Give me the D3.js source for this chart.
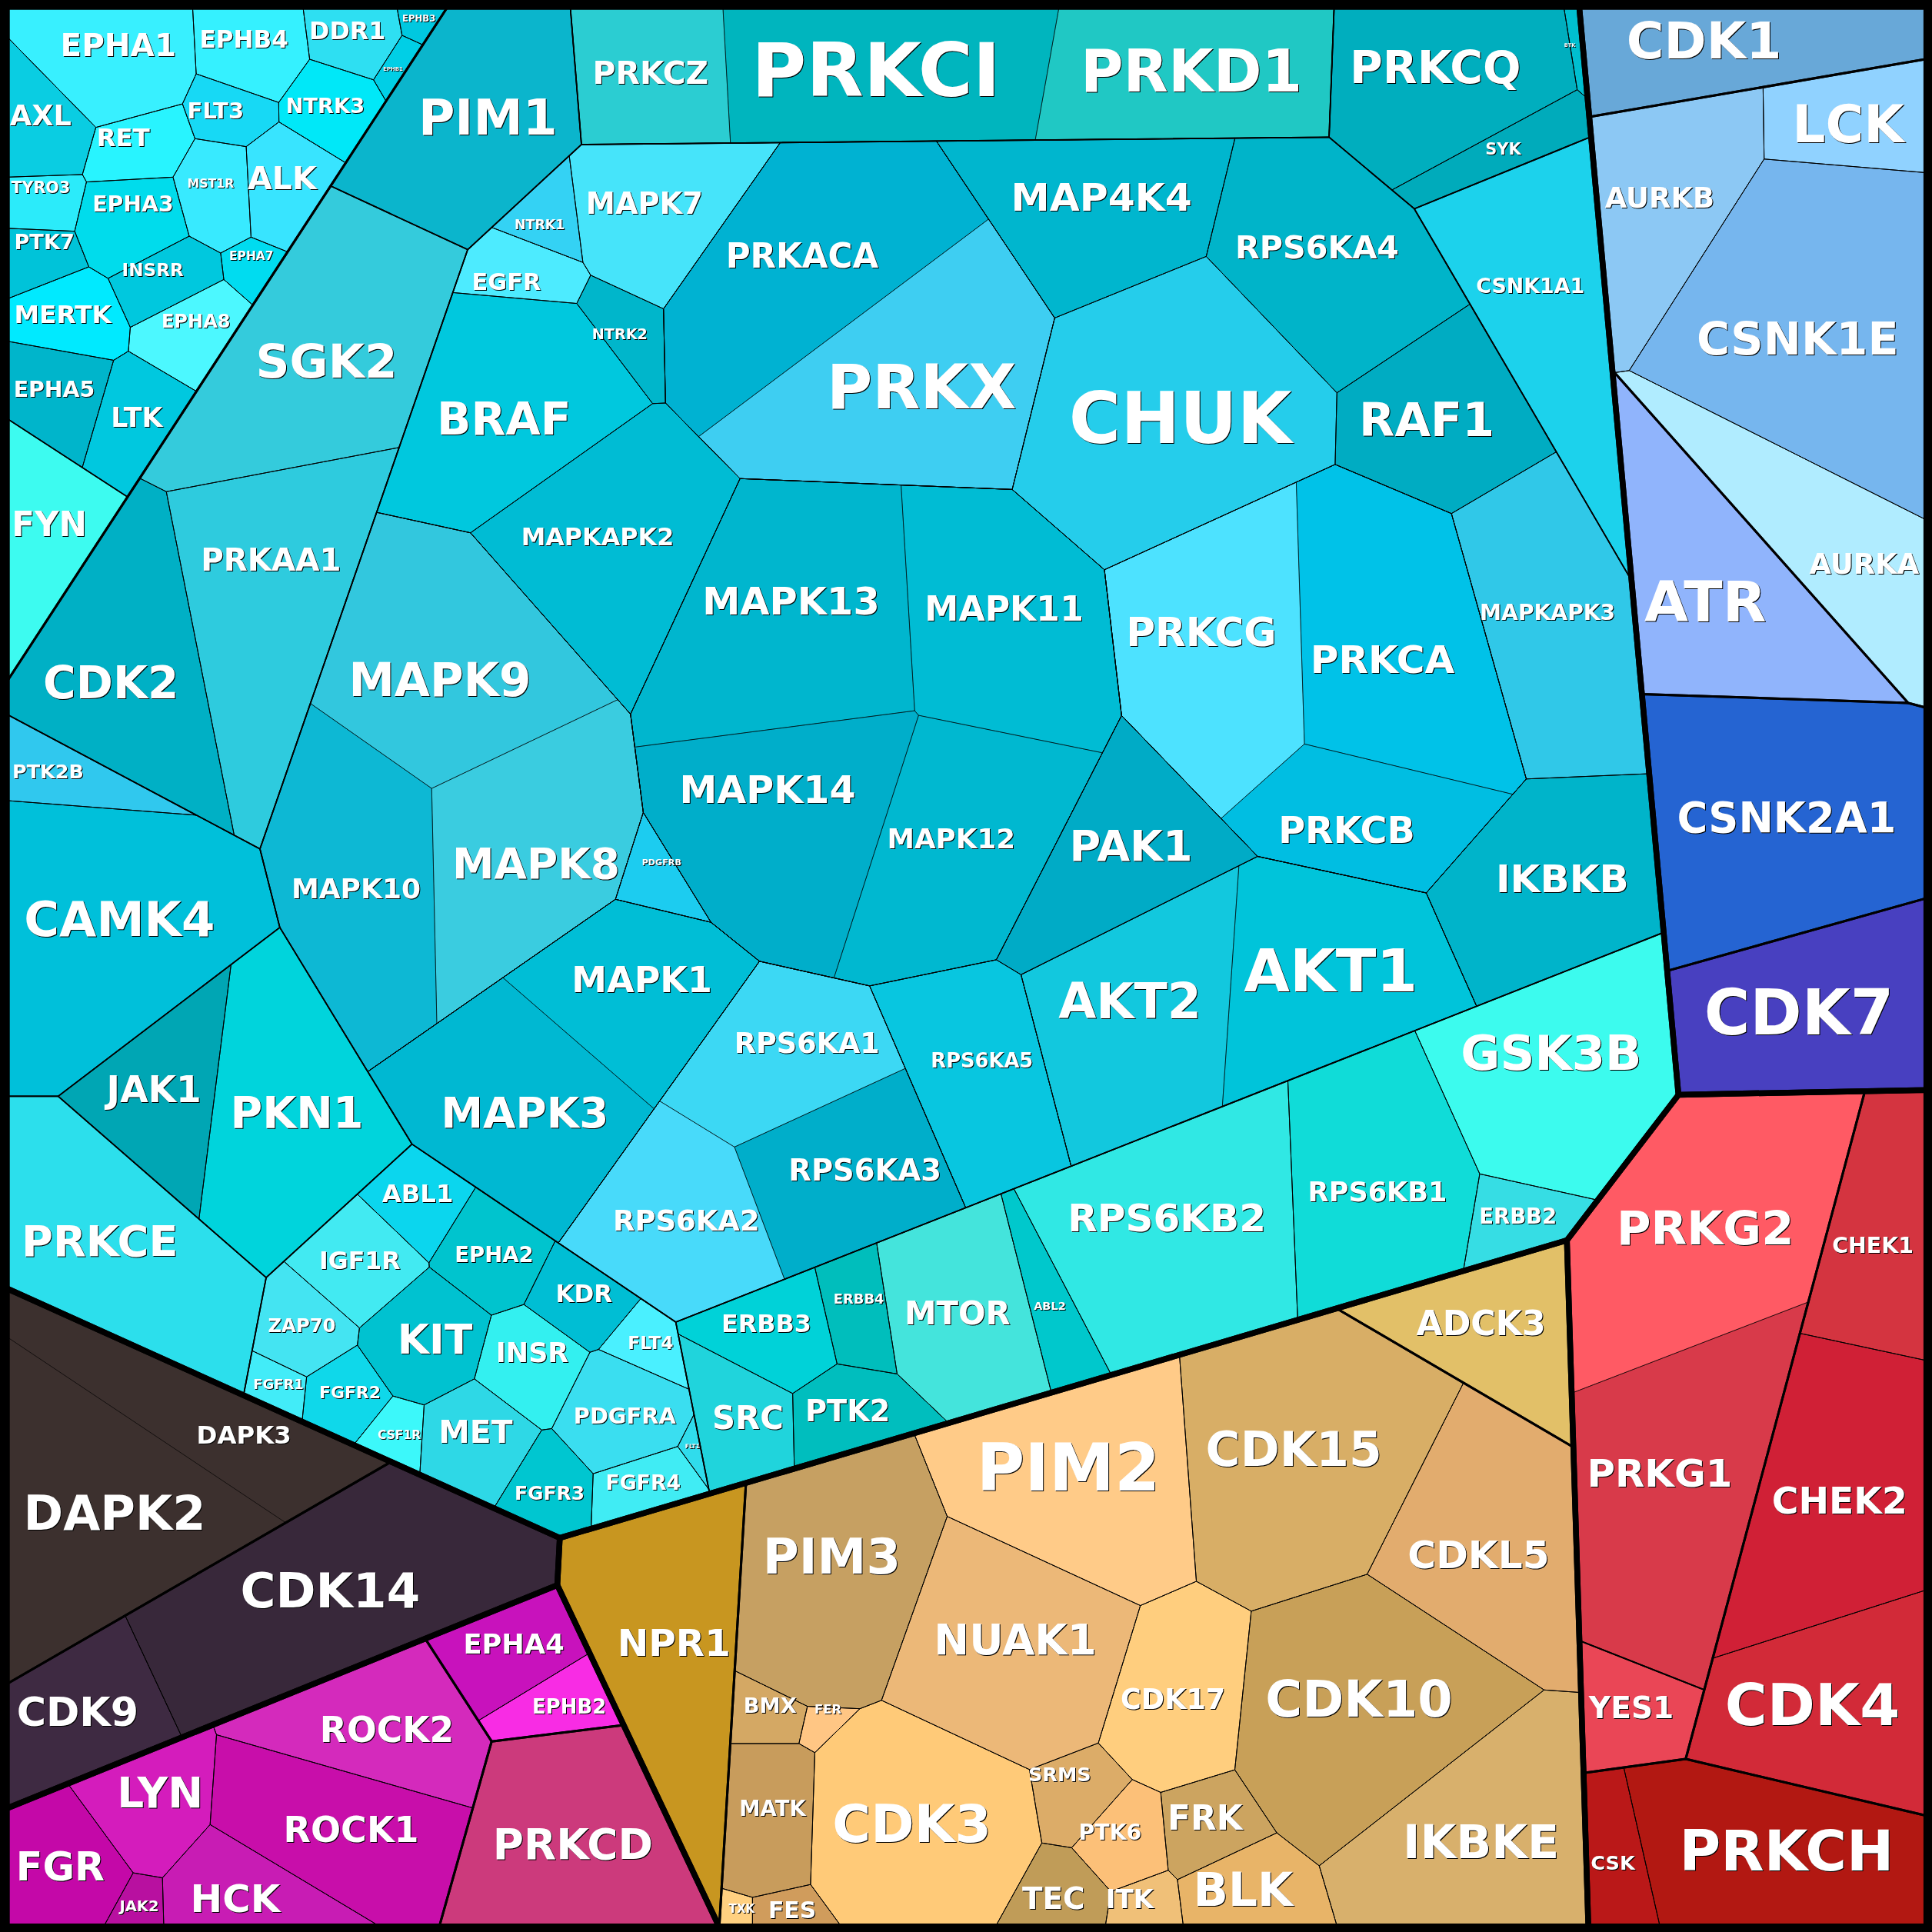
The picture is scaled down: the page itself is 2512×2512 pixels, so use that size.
<!DOCTYPE html>
<html>
<head>
<meta charset="utf-8">
<script src="https://cdn.jsdelivr.net/npm/d3@7"></script>
<style>
  html, body { margin: 0; padding: 0; background: #000; }
  text { font-family: "DejaVu Sans", sans-serif; font-weight: bold; fill: #fff; filter: drop-shadow(1.5px 1.5px 0 #000); }
</style>
</head>
<body>
<div id="chart"></div>
<script>
// kinases, all the lists below run in this order
const kinases = [
  "EPHA1","EPHB4","DDR1","EPHB3","EPHB1","NTRK3","FLT3","ALK","RET","AXL","TYRO3","EPHA3","MST1R","PTK7","INSRR","EPHA7","EPHA8","MERTK","EPHA5","LTK","FYN",
  "PIM1","PRKCZ","PRKCI","PRKD1","PRKCQ","BTK","SYK","CSNK1A1",
  "SGK2","PRKAA1","CDK2","PTK2B","CAMK4","JAK1","PKN1","PRKCE",
  "BRAF","EGFR","NTRK1","MAPK7","NTRK2","PRKACA","PRKX","MAP4K4","RPS6KA4","CHUK","RAF1","MAPKAPK3","PRKCG","PRKCA","PRKCB","IKBKB","AKT1","AKT2","PAK1","MAPK12","MAPK11","MAPK13","MAPK14","PDGFRB","MAPKAPK2","MAPK9","MAPK8","MAPK10","MAPK1","MAPK3","RPS6KA1","RPS6KA2","RPS6KA3","RPS6KA5",
  "ABL1","IGF1R","EPHA2","KDR","KIT","ZAP70","FGFR1","FGFR2","CSF1R","MET","INSR","FLT4","PDGFRA","FLT1","FGFR3","FGFR4",
  "ERBB3","SRC","ERBB4","PTK2","MTOR","ABL2","RPS6KB2","RPS6KB1","GSK3B","ERBB2",
  "CDK1","LCK","AURKB","CSNK1E","AURKA","ATR","CSNK2A1","CDK7",
  "PRKG2","PRKG1","YES1","CHEK1","CHEK2","CDK4","CSK","PRKCH",
  "NPR1","ADCK3","CDK15","CDKL5","PIM2","PIM3","NUAK1","CDK17","CDK10","IKBKE","BMX","FER","MATK","CDK3","TXK","FES","SRMS","PTK6","FRK","TEC","ITK","BLK",
  "DAPK3","DAPK2","CDK14","CDK9",
  "EPHA4","EPHB2","ROCK2","ROCK1","LYN","FGR","JAK2","HCK","PRKCD"
];

// cell sizes
const cellValues = [
  11100,5800,3600,800,870,4400,3050,5200,4000,5200,2600,5400,4400,2650,3700,1700,4800,5300,5800,5800,10300,
  25500,13400,28000,24300,21800,700,5000,26400,
  34300,30900,26700,5300,36900,12900,27500,29000,
  25900,4400,3000,14400,3900,33600,35700,22500,26700,42700,18000,27500,30200,33900,16700,24500,26500,26800,18600,27600,29800,36400,31200,2900,27100,31700,27900,28300,18500,26000,17200,18500,18200,19300,
  4600,6400,6000,4400,7600,4800,1750,3600,2150,6500,5700,2700,7300,550,4400,3700,
  7300,7400,4600,6500,17400,5100,34600,26500,29200,4900,
  18100,9800,19300,45200,21400,27900,41800,26100,
  38200,36600,7500,15900,30000,24000,5700,26400,
  29100,15600,38600,26800,29100,28000,26500,15000,34200,27500,2600,1000,8300,26800,700,1750,4270,4350,5100,4200,2150,6900,
  17900,31400,39200,13000,
  7600,4300,15800,19500,8600,8800,1500,7900,25900
];

const cellColors = [
  "#38f0ff","#35f1ff","#2edff2","#00c8e0","#00cfe6","#00e8f8","#17d9f5","#38e4ff","#28f4ff","#0acde2","#2bebfa","#00dcec","#38eaff","#00c3d9","#00c8de","#00dcf0","#4cf8ff","#00eaff","#00b5cb","#00c8df","#3dfbf0",
  "#0bb5cc","#2bcdd2","#00b5be","#20c8c4","#00aebe","#00bfd0","#00abbb","#1cd2ec",
  "#34cbdc","#2ecbde","#00b0c5","#30c8ee","#00c0da","#00a6b4","#00d4dc","#2cdfec",
  "#00c8de","#4debff","#34d2f4","#46e4fa","#00b6cb","#00b2d2","#3ecef2","#00b6ce","#00b4c9","#25cdeb","#00acc2","#30c8e8","#4de2ff","#00c2e8","#00bee2","#00b4ca","#00c4da","#12c8de","#00abc6","#00b8d0","#00bcd4","#00b6ce","#00aeca","#1cccf0","#00bcd4","#32c7de","#3acce0","#0db8d4","#00bed6","#00b8d2","#3cd8f4","#48dafa","#00aeca","#08c6e0",
  "#0bd6ee","#42eaf2","#00c4ce","#00bed4","#00c2d0","#44e4f2","#42ecf8","#0fd8ea","#3cf8fa","#2ed8e6","#33f0f0","#4af0ff","#3adef0","#30dcec","#00c6d0","#40ecf4",
  "#00d2d8","#20d4dc","#00bebc","#00bebe","#44e4dc","#00c8cc","#30e8e4","#10dcd8","#3cfbee","#36dde4",
  "#68a8d8","#90d2ff","#8cc8f4","#76b6ee","#b0ecff","#90b4fc","#2564d2","#4840c0",
  "#ff5a64","#d83a4a","#ea4656","#d43440","#d02036","#d22a38","#ba1818","#b21812",
  "#c89620","#e2c068","#d8ae66","#e2ac6e","#ffcb88","#c6a062","#ecb878","#ffce7e","#c8a058","#d8b06c","#d4a864","#ffc684","#c89c5c","#ffca78","#ffd080","#d09c5c","#dcac68","#fcc078","#cca460","#c09c58","#f0c078","#e8b468",
  "#3c302e","#3c302e","#38283a","#3e2a42",
  "#c812bc","#f82ce4","#d42abc","#c80eaa","#d41cbc","#c408a8","#b810a0","#c81cb4","#cc3a7c"
];

// where the labels sit and how wide they are, in the 1568 reading grid
const labelX = [
  96,198,282,340,319,264,175,229,100,33,33,108,171,36,124,204,159,51,44,111,40,
  396,528,711,967,1165,1274,1220,1242,
  265,220,90,39,97,125,241,81,
  409,411,438,523,503,651,748,894,1069,958,1158,1256,975,1122,1093,1268,1080,917,918,772,815,642,623,537,485,357,435,289,521,426,655,557,702,797,
  339,292,401,474,353,245,226,284,324,386,432,528,507,562,446,522,
  622,607,697,688,777,852,947,1118,1259,1232,
  1383,1500,1347,1459,1513,1384,1450,1460,
  1384,1347,1324,1520,1493,1471,1309,1450,
  547,1202,1050,1200,867,675,824,952,1103,1202,625,672,627,740,602,643,860,901,978,855,917,1009,
  198,93,268,63,
  417,462,314,285,130,49,113,191,465
];
const labelY = [
  37,32,25,15,56,86,90,145,112,94,152,166,149,196,219,208,261,255,316,339,426,
  95,59,57,58,55,37,121,232,
  293,455,554,626,746,884,903,1007,
  340,229,182,165,271,208,314,160,201,340,341,497,513,535,674,713,788,813,686,681,494,488,641,700,436,552,701,721,795,903,847,991,950,861,
  969,1023,1018,1050,1087,1076,1123,1130,1165,1162,1098,1090,1149,1174,1212,1203,
  1074,1151,1054,1145,1066,1060,989,967,855,987,
  33,101,161,275,458,488,664,822,
  997,1196,1386,1011,1218,1384,1512,1502,
  1333,1074,1176,1262,1191,1263,1331,1379,1379,1495,1384,1387,1468,1480,1549,1550,1440,1487,1475,1541,1541,1534,
  1165,1228,1291,1389,
  1334,1385,1404,1485,1455,1515,1547,1541,1497
];
const labelW = [
  94,72,62,27,16,64,46,56,43,50,48,66,38,49,50,36,56,79,66,42,61,
  113,94,202,180,139,9,29,88,
  115,114,110,58,155,77,108,127,
  109,56,41,95,45,124,154,147,133,181,110,110,122,117,111,108,141,116,100,104,129,144,143,32,124,148,136,105,114,136,118,119,124,83,
  58,66,64,46,61,55,41,50,35,60,59,37,83,12,57,61,
  73,58,41,69,86,26,161,113,147,63,
  126,91,89,164,89,99,178,154,
  144,118,69,66,110,142,36,174,
  92,105,143,115,149,112,132,85,152,127,43,22,54,129,21,39,51,51,61,51,39,81,
  77,148,146,99,
  82,60,109,110,70,72,32,73,130
];

// nesting of the cells, an extra bracket just pushes the border one level thinner
const nesting = [
  [ // cyan
    [["EPHA1","EPHB4","DDR1","EPHB3","EPHB1","NTRK3","FLT3","ALK","RET","AXL","TYRO3","EPHA3","MST1R","PTK7","INSRR","EPHA7","EPHA8","MERTK","EPHA5","LTK"],"FYN"],
    [
      "PIM1",
      [[["PRKCZ","PRKCI","PRKD1"]]],
      ["PRKCQ","BTK","SYK"],
      "CSNK1A1",
      ["SGK2","PRKAA1","CDK2"],
      ["PTK2B","CAMK4"],
      ["JAK1","PKN1"],
      "PRKCE",
      ["ABL1","IGF1R","EPHA2","KDR","KIT","ZAP70","FGFR1","FGFR2","CSF1R","MET","INSR","FLT4","PDGFRA","FLT1","FGFR3","FGFR4"],
      ["ERBB3","SRC","ERBB4","PTK2","MTOR","ABL2","RPS6KB2","RPS6KB1","GSK3B","ERBB2"],
      ["BRAF","EGFR","NTRK1","MAPK7","NTRK2","MAP4K4","RPS6KA4","CHUK","RAF1","MAPKAPK3","IKBKB","PAK1","PDGFRB","MAPKAPK2","RPS6KA5",
        [["PRKX","PRKACA"]],
        [["PRKCG","PRKCA","PRKCB"]],
        [["MAPK13","MAPK11","MAPK14","MAPK12"]],
        [["MAPK9","MAPK8","MAPK10"]],
        [["AKT1","AKT2"]],
        [["RPS6KA1","RPS6KA2","RPS6KA3"]],
        [["MAPK1","MAPK3"]]
      ]
    ]
  ],
  ["CDK1",[["LCK","AURKB","CSNK1E","AURKA"]],"ATR","CSNK2A1","CDK7"], // blue
  [[[[["PRKG2","PRKG1"]]],"YES1"],[["CHEK1","CHEK2","CDK4"]],[["CSK","PRKCH"]]], // red
  ["NPR1","ADCK3",[["CDK15","CDKL5","PIM2","PIM3","NUAK1","CDK17","CDK10","IKBKE","BMX","FER","MATK","CDK3","TXK","FES","SRMS","PTK6","FRK","TEC","ITK","BLK"]]], // tan
  [[[[[["DAPK3","DAPK2"]]]]],[["CDK14","CDK9"]]], // dark
  [[["FGR","JAK2","LYN","HCK","ROCK1","ROCK2"]],[["EPHA4","EPHB2"]],"PRKCD"] // magenta
];

// generator points of the cells, key is first leaf @ depth
const cellSites = {
  "EPHA1@1":[640,580], "CDK1@1":[1583,494], "PRKG2@1":[1599,1315], "NPR1@1":[864,1338], "DAPK3@1":[311,1309], "FGR@1":[410,1553],
  "EPHA1@2":[150,200], "PIM1@2":[568,473], "EPHA1@3":[170,170], "FYN@3":[1,430],
  "BRAF@3":[760,570], "PRKCZ@3":[756,163], "PRKCQ@3":[1091,176], "CSNK1A1@3":[1157,338], "ERBB3@3":[917,968], "ABL1@3":[426,1065], "JAK1@3":[255,878], "PTK2B@3":[140,727], "SGK2@3":[307,413], "PIM1@3":[410,191], "PRKCE@3":[140,1010],
  "CDK1@2":[1420,50], "LCK@2":[1459,277], "ATR@2":[1369,357], "CSNK2A1@2":[1359,657], "CDK7@2":[1405,821],
  "LCK@4":[1494,163], "AURKB@4":[1360,165], "CSNK1E@4":[1487,246], "AURKA@4":[1397,425],
  "PRKG2@2":[1350,1160], "CHEK1@2":[1514,1204], "CSK@2":[1414,1628],
  "PRKG2@3":[1360,1110], "YES1@3":[1261,1361], "PRKG2@6":[1340,1000], "PRKG1@6":[1412,1187],
  "CHEK1@4":[1520,995], "CHEK2@4":[1478,1190], "CDK4@4":[1533,1362], "CSK@4":[1300,1510], "PRKCH@4":[1436,1479],
  "NPR1@2":[531,1316], "ADCK3@2":[1100,1050], "CDK15@2":[930,1340],
  "DAPK3@2":[130,1190], "CDK14@2":[215,1337], "DAPK3@7":[190,1165], "DAPK2@7":[118,1273], "CDK14@4":[285,1290], "CDK9@4":[86,1383],
  "FGR@2":[200,1470], "EPHA4@2":[418,1329], "PRKCD@2":[444,1539], "EPHA4@4":[420,1335], "EPHB2@4":[451,1386],
  "PRKACA@6":[650,225], "PRKX@6":[722,321],
  "PRKCI@6":[711,60], "PRKD1@6":[957,104], "PRKCZ@6":[531,70],
  "PRKCQ@4":[1177,64], "BTK@4":[1276,48], "SYK@4":[1210,125],
  "SGK2@4":[225,280], "PRKAA1@4":[266,496], "CDK2@4":[99,529],
  "PTK2B@4":[120,625], "CAMK4@4":[110,755], "JAK1@4":[130,880], "PKN1@4":[249,895],
  // middle block
  "BRAF@4":[405,342], "EGFR@4":[415,228], "NTRK1@4":[443,155], "MAPK7@4":[560,140], "NTRK2@4":[500,270], "MAP4K4@4":[895,160], "RPS6KA4@4":[1080,205], "CHUK@4":[960,320], "RAF1@4":[1160,325], "MAPKAPK3@4":[1260,495], "IKBKB@4":[1270,730], "PAK1@4":[920,690], "PDGFRB@4":[540,704], "MAPKAPK2@4":[510,490], "RPS6KA5@4":[790,905],
  "PRKX@4":[738,265], "PRKCG@4":[1065,550], "MAPK13@4":[725,590], "MAPK9@4":[340,640], "AKT1@4":[1000,850], "RPS6KA1@4":[640,970], "MAPK1@4":[500,870],
  "PRKCG@6":[970,530], "PRKCA@6":[1130,525], "PRKCB@6":[1095,670],
  "MAPK13@6":[620,516], "MAPK11@6":[836,503], "MAPK14@6":[640,670], "MAPK12@6":[792,719],
  "MAPK9@6":[360,555], "MAPK8@6":[433,708], "MAPK10@6":[250,712],
  "AKT1@6":[1085,821], "AKT2@6":[925,810],
  "RPS6KA1@6":[650,840], "RPS6KA2@6":[556,993], "RPS6KA3@6":[696,940],
  "MAPK1@6":[510,810], "MAPK3@6":[418,916],
  // top left block
  "EPHA1@4":[86,46], "EPHB4@4":[197,40], "DDR1@4":[283,29], "EPHB3@4":[338,19], "EPHB1@4":[322,54], "NTRK3@4":[264,88], "FLT3@4":[180,89], "ALK@4":[226,150], "RET@4":[105,116], "AXL@4":[35,96], "TYRO3@4":[37,153], "EPHA3@4":[108,170], "MST1R@4":[170,153], "PTK7@4":[35,199], "INSRR@4":[134,220], "EPHA7@4":[201,212], "EPHA8@4":[156,263], "MERTK@4":[57,255], "EPHA5@4":[45,322], "LTK@4":[110,341],
  // bottom block
  "ABL1@4":[338,974], "IGF1R@4":[292,1022], "EPHA2@4":[401,1013], "KDR@4":[474,1049], "KIT@4":[346,1084], "ZAP70@4":[248,1072], "FGFR1@4":[224,1122], "FGFR2@4":[283,1128], "CSF1R@4":[324,1161], "MET@4":[388,1165], "INSR@4":[432,1107], "FLT4@4":[528,1094], "PDGFRA@4":[506,1144], "FLT1@4":[565,1174], "FGFR3@4":[445,1200], "FGFR4@4":[525,1203],
  "ERBB3@4":[630,1075], "SRC@4":[590,1152], "ERBB4@4":[695,1060], "PTK2@4":[680,1150], "MTOR@4":[778,1047], "ABL2@4":[845,1030], "RPS6KB2@4":[950,975], "RPS6KB1@4":[1120,968], "GSK3B@4":[1270,900], "ERBB2@4":[1250,990],
  // tan block
  "CDK15@4":[1049,1187], "CDKL5@4":[1196,1261], "PIM2@4":[875,1200], "PIM3@4":[675,1280], "NUAK1@4":[815,1330], "CDK17@4":[949,1371], "CDK10@4":[1113,1388], "IKBKE@4":[1181,1475], "BMX@4":[626,1380], "FER@4":[670,1390], "MATK@4":[626,1467], "CDK3@4":[749,1471], "TXK@4":[602,1548], "FES@4":[644,1548], "SRMS@4":[862,1452], "PTK6@4":[898,1484], "FRK@4":[981,1476], "TEC@4":[850,1527], "ITK@4":[918,1538], "BLK@4":[1005,1527],
  // magenta block
  "FGR@4":[50,1510], "JAK2@4":[110,1543], "LYN@4":[125,1455], "HCK@4":[220,1540], "ROCK1@4":[265,1465], "ROCK2@4":[285,1395]
};

const borderByDepth = [0, 7.5, 3, 1.7, 1, 0.8, 0.5, 0.3];

const size = 2512;
const gridSize = 1568;
const x = d3.scaleLinear().domain([0, gridSize]).range([0, size]);
const y = d3.scaleLinear().domain([0, gridSize]).range([0, size]);

// keep the side of the line a*x + b*y <= c
function clipPolygon(poly, a, b, c) {
  const out = [];
  for (let i = 0; i < poly.length; i++) {
    const p = poly[i];
    const q = poly[(i + 1) % poly.length];
    const dp = a * p[0] + b * p[1] - c;
    const dq = a * q[0] + b * q[1] - c;
    if (dp <= 0) out.push(p);
    if ((dp < 0 && dq > 0) || (dp > 0 && dq < 0)) {
      const t = dp / (dp - dq);
      out.push([p[0] + t * (q[0] - p[0]), p[1] + t * (q[1] - p[1])]);
    }
  }
  return out;
}

function powerCells(frame, sites, weights) {
  return sites.map((s, i) => {
    let poly = frame;
    for (let j = 0; j < sites.length && poly.length; j++) {
      if (j === i) continue;
      const o = sites[j];
      poly = clipPolygon(
        poly,
        2 * (o[0] - s[0]),
        2 * (o[1] - s[1]),
        o[0] * o[0] + o[1] * o[1] - weights[j] - s[0] * s[0] - s[1] * s[1] + weights[i]
      );
    }
    return poly;
  });
}

// how fast the area of a cell reacts to its own weight
function areaSlope(poly, i, sites, weights) {
  let slope = 0;
  const pw = (p, k) => (p[0] - sites[k][0]) ** 2 + (p[1] - sites[k][1]) ** 2 - weights[k];
  for (let e = 0; e < poly.length; e++) {
    const p = poly[e];
    const q = poly[(e + 1) % poly.length];
    const mid = [(p[0] + q[0]) / 2, (p[1] + q[1]) / 2];
    let best = -1;
    let bestGap = 1e-3 * (1 + Math.abs(pw(mid, i)));
    sites.forEach((s, k) => {
      if (k === i) return;
      const gap = Math.abs(pw(mid, k) - pw(mid, i));
      if (gap < bestGap) { bestGap = gap; best = k; }
    });
    if (best >= 0) {
      slope += Math.hypot(q[0] - p[0], q[1] - p[1]) / (2 * Math.hypot(sites[best][0] - sites[i][0], sites[best][1] - sites[i][1]));
    }
  }
  return slope || Math.PI / 2;
}

const settleSteps = 1500;

// sites stay put, the weights move until every cell has its share of the frame
function solveCells(frame, sites, targets) {
  if (sites.length === 1) return [frame];
  const scale = Math.abs(d3.polygonArea(frame)) / d3.sum(targets);
  const goal = targets.map(t => t * scale);
  const mid = d3.polygonCentroid(frame);
  const weights = goal.map((g, i) => (sites[i][0] - mid[0]) ** 2 + (sites[i][1] - mid[1]) ** 2 + g / Math.PI);
  let bestCells = null;
  let bestMiss = Infinity;
  for (let step = 0; step < settleSteps; step++) {
    const cells = powerCells(frame, sites, weights);
    const areas = cells.map(c => c.length > 2 ? Math.abs(d3.polygonArea(c)) : 0);
    // worst relative miss, the step with the smallest one is kept
    const miss = d3.max(areas, (a, i) => Math.abs(a - goal[i]) / goal[i]);
    if (miss < bestMiss) { bestMiss = miss; bestCells = cells; }
    const slopes = cells.map((c, i) => c.length ? areaSlope(c, i, sites, weights) : Math.PI / 2);
    const damp = step < 300 ? 0.6 : 0.3;
    cells.forEach((c, i) => {
      weights[i] += damp * (goal[i] - areas[i]) / slopes[i];
    });
  }
  return bestCells;
}

const indexOf = new Map(kinases.map((k, i) => [k, i]));
const root = d3.hierarchy(nesting, d => Array.isArray(d) ? d : null)
  .sum(d => typeof d === "string" ? cellValues[indexOf.get(d)] : 0);

// the group borders straddle this edge, what shows inside it starts at 8
root.polygon = [[5.6, 5.6], [1563.4, 5.6], [1563.4, 1563.4], [5.6, 1563.4]];
root.eachBefore(node => {
  if (!node.children) return;
  const sites = node.children.map(c => cellSites[c.leaves()[0].data + "@" + c.depth] || [0, 0]);
  const cells = solveCells(node.polygon, sites, node.children.map(c => c.value));
  node.children.forEach((c, i) => { c.polygon = cells[i]; });
});

const svg = d3.select("#chart").append("svg")
  .attr("width", size)
  .attr("height", size)
  .style("display", "block")
  .style("background", "#000");

const outline = d3.line().x(p => x(p[0])).y(p => y(p[1])).curve(d3.curveLinearClosed);

// fills first
svg.append("g").selectAll("path")
  .data(root.leaves())
  .join("path")
  .attr("d", d => outline(d.polygon))
  .attr("fill", d => cellColors[indexOf.get(d.data)]);

// borders, deepest first so the heavy ones end on top
svg.append("g").selectAll("path")
  .data(root.descendants().filter(d => d.depth > 0).sort((a, b) => b.depth - a.depth))
  .join("path")
  .attr("d", d => outline(d.polygon))
  .attr("fill", "none")
  .attr("stroke", "#000")
  .attr("stroke-linejoin", "round")
  .attr("stroke-width", d => borderByDepth[d.depth]);

// labels, fitted to the width they have in the picture
svg.append("g").selectAll("text")
  .data(kinases)
  .join("text")
  .attr("x", (d, i) => x(labelX[i]))
  .attr("y", (d, i) => y(labelY[i]))
  .attr("text-anchor", "middle")
  .attr("dominant-baseline", "central")
  .attr("font-size", 100)
  .text(d => d)
  .each(function (d, i) {
    const fitted = 100 * x(labelW[i]) / this.getComputedTextLength();
    d3.select(this).attr("font-size", fitted);
  });
</script>
</body>
</html>
